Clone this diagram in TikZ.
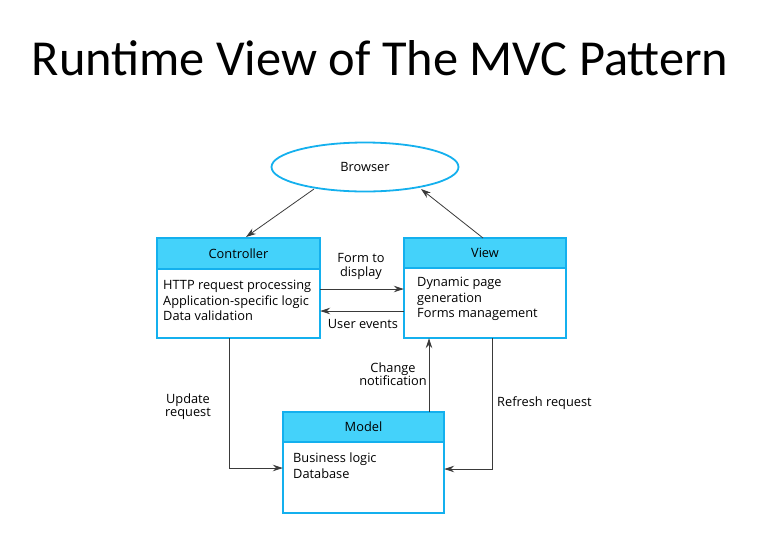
\documentclass[tikz,border=0pt]{standalone}
\usepackage{fontspec}
\setmainfont{Open Sans}
\newfontfamily\titlefont{Carlito}
\usetikzlibrary{shapes.geometric,arrows.meta}
\definecolor{compborder}{HTML}{14B0EE}
\definecolor{compfill}{HTML}{44D2FA}
\definecolor{linkgray}{HTML}{3A3A3A}
\tikzset{
  diagfont/.style={font=\fontsize{12.8}{15.6}\selectfont},
  compframe/.style={draw=compborder, line width=1.8pt},
  comphead/.style={fill=compfill},
  bodytext/.style={diagfont, align=left, anchor=north west, inner sep=0pt},
  headtext/.style={diagfont, inner sep=0pt},
  link/.style={draw=linkgray, line width=0.8pt, -{Stealth[length=10pt,width=6.5pt]}},
  linklabel/.style={font=\fontsize{12.8}{13.5}\selectfont, align=center, inner sep=0pt}
}
\begin{document}
\begin{tikzpicture}[x=1pt,y=-1pt]
\useasboundingbox (0,0) rectangle (758,539);
\fill[white] (0,0) rectangle (758,539);

% title
\node[font=\titlefont\fontsize{50.4}{56}\selectfont, inner sep=0pt] (title) at (380,58) {Runtime View of The MVC Pattern};

% browser
\node[ellipse, draw=compborder, line width=1.8pt, minimum width=187pt, minimum height=49pt, inner sep=0pt,
      diagfont] (browser) at (365,167) {Browser};

% controller
\fill[comphead] (157,238) rectangle (320,269);
\draw[compframe] (157,269) -- (320,269);
\draw[compframe] (157,238) rectangle (320,338);
\node[draw=none, minimum width=163pt, minimum height=100pt, inner sep=0pt] (controller) at (238.5,288) {};
\node[headtext] (ctrlhead) at (238.5,253.5) {Controller};
\node[bodytext] (ctrlbody) at (163,280) {HTTP request processing\\Application-specific logic\\Data validation};

% view
\fill[comphead] (404,238) rectangle (566,268);
\draw[compframe] (404,268) -- (566,268);
\draw[compframe] (404,238) rectangle (566,338);
\node[draw=none, minimum width=162pt, minimum height=100pt, inner sep=0pt] (view) at (485,288) {};
\node[headtext] (viewhead) at (485,253) {View};
\node[bodytext] (viewbody) at (417,277) {Dynamic page\\generation\\Forms management};

% model
\fill[comphead] (283,412) rectangle (444,442);
\draw[compframe] (283,442) -- (444,442);
\draw[compframe] (283,412) rectangle (444,513);
\node[draw=none, minimum width=161pt, minimum height=101pt, inner sep=0pt] (model) at (363.5,462.5) {};
\node[headtext] (modelhead) at (363.5,427) {Model};
\node[bodytext] (modelbody) at (293,452.5) {Business logic\\Database};

% connectors
\coordinate (upd) at (229,468);
\coordinate (ref) at (492,469);
\draw[link] (314,189) -- (246,237);
\draw[link] (483,238) -- (421,189);
\draw[link] (controller.east |- 0,289) -- (view.west |- 0,289);
\draw[link] (view.west |- 0,311) -- (controller.east |- 0,311);
\draw[link] (controller.south -| upd) -- (upd) -- (model.west |- upd);
\draw[link] (model.north -| 429,0) -- (view.south -| 429,0);
\draw[link] (view.south -| ref) -- (ref) -- (model.east |- ref);

% connector labels
\node[linklabel] (formlbl) at (361,266.5) {Form to\\display};
\node[linklabel] (userlbl) at (363,323.5) {User events};
\node[linklabel] (updlbl) at (188,406.5) {Update\\request};
\node[linklabel] (chglbl) at (393,374) {Change\\notification};
\node[linklabel, anchor=west] (reflbl) at (497,403.5) {Refresh request};
\end{tikzpicture}
\end{document}
